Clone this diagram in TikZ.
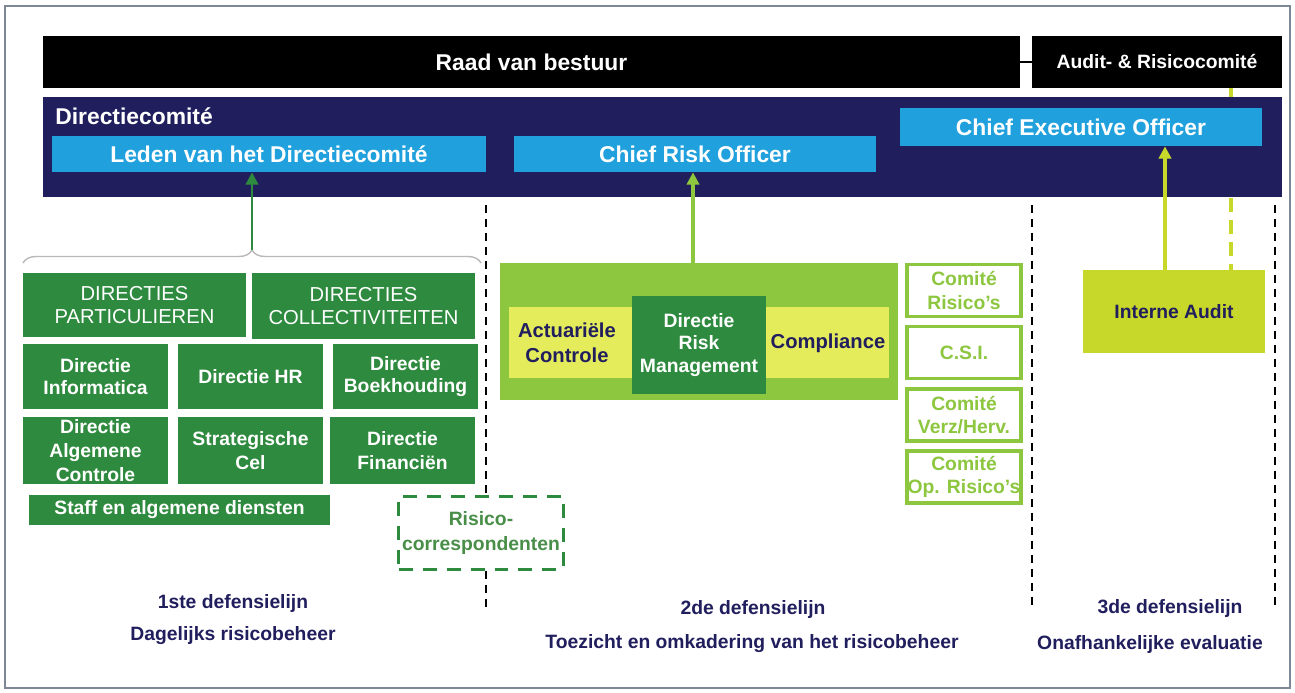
\documentclass[tikz,border=0pt]{standalone}
\usepackage{fontspec}
\setmainfont{Liberation Sans}
\usepackage{tikz}
\usetikzlibrary{arrows.meta}
\usetikzlibrary{decorations.pathreplacing}
\usepackage{xcolor}
\definecolor{navy}{RGB}{33,30,94}
\definecolor{skyblue}{RGB}{32,160,220}
\definecolor{darkgreen}{RGB}{46,138,62}
\definecolor{midgreen}{RGB}{72,142,72}
\definecolor{lightgreen}{RGB}{141,198,63}
\definecolor{paleyellow}{RGB}{228,236,92}
\definecolor{auditgreen}{RGB}{200,216,42}
\definecolor{framegray}{RGB}{125,135,150}

\begin{document}
\begin{tikzpicture}[x=0.02cm,y=-0.02cm,
  blackbar/.style={fill=black,text=white,inner sep=0,minimum height=1.04cm,font=\bfseries\fontsize{13}{15}\selectfont},
  bluebar/.style={fill=skyblue,text=white,inner sep=0,minimum height=0.72cm,font=\bfseries\fontsize{13}{15}\selectfont},
  dirbox/.style={fill=darkgreen,text=white,inner sep=0,align=center,font=\bfseries\fontsize{11}{12.5}\selectfont},
  combox/.style={draw=lightgreen,line width=2pt,fill=white,text=lightgreen,inner sep=0,minimum width=2.29cm,minimum height=1.04cm,align=center,font=\bfseries\fontsize{11}{13.5}\selectfont},
  linelabel/.style={text=navy,font=\bfseries\fontsize{11}{13}\selectfont},
  divider/.style={line width=1.2pt,dash pattern=on 0.16cm off 0.12cm},
  uparrow/.style={-{Triangle[length=7pt,width=7pt]},line width=2.2pt}]
  \useasboundingbox (0,0) rectangle (1295,693);
  \draw[framegray,line width=1pt] (5,6) rectangle (1290,688);

\coordinate (auditlink) at (1231,88);
\coordinate (iaout) at (1165,270);
\coordinate (riskout) at (693,263);
\coordinate (bracetip) at (252,250);
\coordinate (sepA) at (486,205);
\coordinate (sepB) at (1032,205);
\coordinate (sepC) at (1275,205);

\node[blackbar,minimum width=19.54cm] (raad) at (531.5,62) {Raad van bestuur};
\node[blackbar,minimum width=5cm,font=\bfseries\fontsize{11}{13}\selectfont] (audit) at (1157,62) {Audit- \& Risicocomité};
\draw[line width=1.6pt] (raad.east) -- (audit.west);

\draw[auditgreen,line width=2.2pt,dash pattern=on 0.28cm off 0.16cm] (auditlink) -- (1231,270);

\node[fill=navy,minimum width=24.78cm,minimum height=2cm,inner sep=0] (dircom) at (662.5,147) {};
\node[anchor=west,text=white,inner sep=0,font=\bfseries\fontsize{13}{15}\selectfont] (dirlabel) at (55,116) {Directiecomité};

\node[bluebar,minimum width=8.68cm] (leden) at (269,154) {Leden van het Directiecomité};
\node[bluebar,minimum width=7.24cm] (cro) at (695,154) {Chief Risk Officer};
\node[bluebar,minimum width=7.24cm,minimum height=0.76cm] (ceo) at (1081,127) {Chief Executive Officer};

\draw[decorate,decoration={brace,amplitude=0.26cm},draw=gray!55,line width=0.8pt] (23,263) -- (481,263);
\draw[uparrow,darkgreen,line width=1.7pt] (bracetip) -- (bracetip |- leden.south);

\node[dirbox,minimum width=4.46cm,minimum height=1.28cm,font=\fontsize{11.5}{13}\selectfont] (partic) at (134.5,305) {DIRECTIES\\PARTICULIEREN};
\node[dirbox,minimum width=4.46cm,minimum height=1.32cm,font=\fontsize{11.5}{13}\selectfont] (collect) at (363.5,306) {DIRECTIES\\COLLECTIVITEITEN};

\node[dirbox,minimum width=2.9cm,minimum height=1.3cm] (info) at (95.5,376.5) {Directie\\Informatica};
\node[dirbox,minimum width=2.9cm,minimum height=1.3cm] (hr) at (250.5,376.5) {Directie HR};
\node[dirbox,minimum width=2.9cm,minimum height=1.3cm] (boek) at (405.5,376.5) {Directie\\Boekhouding};

\node[dirbox,minimum width=2.9cm,minimum height=1.34cm,font=\bfseries\fontsize{11}{13.5}\selectfont] (algcon) at (95.5,450.5) {Directie\\Algemene\\Controle};
\node[dirbox,minimum width=2.9cm,minimum height=1.34cm,font=\bfseries\fontsize{11}{13.5}\selectfont] (strat) at (250.5,450.5) {Strategische\\Cel};
\node[dirbox,minimum width=2.9cm,minimum height=1.34cm,font=\bfseries\fontsize{11}{13.5}\selectfont] (fin) at (402.5,450.5) {Directie\\Financiën};

\node[dirbox,minimum width=6.02cm,minimum height=0.6cm] (staff) at (179.5,510) {Staff en algemene diensten};

\node[draw=darkgreen,line width=1.6pt,dash pattern=on 0.28cm off 0.2cm,text=midgreen,inner sep=0,minimum width=3.3cm,minimum height=1.45cm,align=center,font=\bfseries\fontsize{11}{14}\selectfont] (risico) at (481,533) {Risico-\\correspondenten};

\draw[divider] (sepA) -- (sepA |- risico.north);
\draw[divider] (sepA |- risico.south) -- (486,610);
\draw[divider] (sepB) -- (1032,610);
\draw[divider] (sepC) -- (1275,610);

\node[fill=lightgreen,minimum width=7.96cm,minimum height=2.74cm,inner sep=0] (risk) at (699,331.5) {};
\node[fill=paleyellow,minimum width=7.6cm,minimum height=1.42cm,inner sep=0] (band) at (699,342.5) {};
\node[text=navy,align=center,font=\bfseries\fontsize{11.5}{14}\selectfont] (actu) at (567,343) {Actuariële\\Controle};
\node[text=navy,font=\bfseries\fontsize{11.5}{14}\selectfont] (compl) at (828,343) {Compliance};
\node[dirbox,minimum width=2.68cm,minimum height=1.96cm,font=\bfseries\fontsize{11}{13}\selectfont] (drm) at (699,345) {Directie\\Risk\\Management};
\draw[uparrow,lightgreen] (riskout) -- (riskout |- cro.south);

\node[combox] (comrisk) at (964,290.5) {Comité\\Risico's};
\node[combox] (csi) at (964,352.5) {C.S.I.};
\node[combox] (comverz) at (964,415) {Comité\\Verz/Herv.};
\node[combox] (comop) at (964,477) {Comité\\Op. Risico's};

\node[fill=auditgreen,text=navy,minimum width=3.64cm,minimum height=1.66cm,inner sep=0,font=\bfseries\fontsize{11}{13}\selectfont] (ia) at (1174,311.5) {Interne Audit};
\draw[uparrow,auditgreen] (iaout) -- (iaout |- ceo.south);

\node[linelabel] (first) at (233,603) {1ste defensielijn};
\node[linelabel] (firstsub) at (233,636) {Dagelijks risicobeheer};
\node[linelabel] (second) at (753,609) {2de defensielijn};
\node[linelabel] (secondsub) at (752,644) {Toezicht en omkadering van het risicobeheer};
\node[linelabel] (third) at (1170,608) {3de defensielijn};
\node[linelabel] (thirdsub) at (1150,644) {Onafhankelijke evaluatie};

\end{tikzpicture}
\end{document}
